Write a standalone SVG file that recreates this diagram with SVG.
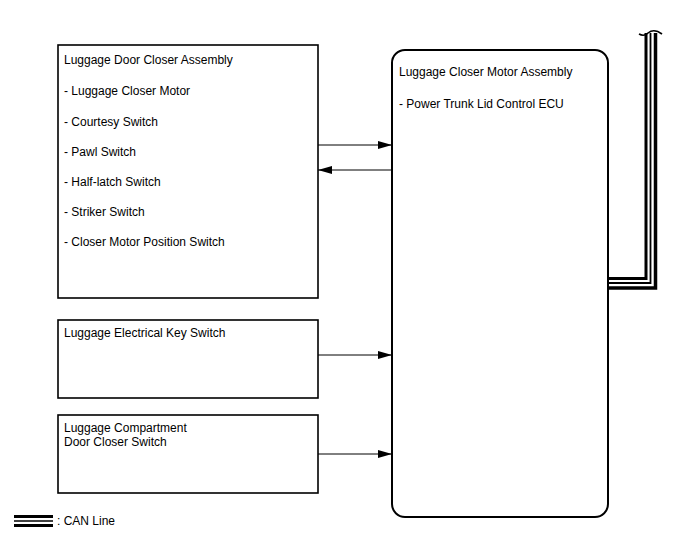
<svg xmlns="http://www.w3.org/2000/svg" width="688" height="560" viewBox="0 0 688 560">
<defs>
<style>
text{font-family:"Liberation Sans",Arial,sans-serif;font-size:12px;fill:#000}
.box{fill:#fff;stroke:#000;stroke-width:1.6}
.ecu{fill:#fff;stroke:#000;stroke-width:2}
.wire{stroke:#000;stroke-width:1;fill:none}
.can{fill:none;stroke:#000}
</style>
<marker id="ah" viewBox="0 0 14 8" refX="14" refY="4" markerWidth="14" markerHeight="8" markerUnits="userSpaceOnUse" orient="auto">
<path d="M0,0 L14,4 L0,8 Z" fill="#000"/>
</marker>
</defs>
<rect width="688" height="560" fill="#fff"/>
<g id="door-closer">
<rect class="box" x="58" y="45" width="260" height="253"/>
<text x="64" y="64">Luggage Door Closer Assembly</text>
<text x="64" y="95">- Luggage Closer Motor</text>
<text x="64" y="126">- Courtesy Switch</text>
<text x="64" y="156">- Pawl Switch</text>
<text x="64" y="186">- Half-latch Switch</text>
<text x="64" y="216">- Striker Switch</text>
<text x="64" y="246">- Closer Motor Position Switch</text>
</g>
<g id="key-switch">
<rect class="box" x="58" y="320" width="260" height="78"/>
<text x="64" y="337">Luggage Electrical Key Switch</text>
</g>
<g id="compartment-switch">
<rect class="box" x="58" y="415" width="260" height="78"/>
<text x="64" y="432">Luggage Compartment</text>
<text x="64" y="446">Door Closer Switch</text>
</g>
<g id="ecu">
<rect class="ecu" x="392" y="50" width="216" height="467" rx="13" ry="13"/>
<text x="399" y="76">Luggage Closer Motor Assembly</text>
<text x="399" y="108">- Power Trunk Lid Control ECU</text>
</g>
<g id="connectors">
<line class="wire" x1="318" y1="145" x2="392" y2="145" marker-end="url(#ah)"/>
<line class="wire" x1="392" y1="170" x2="318" y2="170" marker-end="url(#ah)"/>
<line class="wire" x1="318" y1="355" x2="392" y2="355" marker-end="url(#ah)"/>
<line class="wire" x1="318" y1="454" x2="392" y2="454" marker-end="url(#ah)"/>
<g id="can-bus">
<path class="can" stroke-width="3" d="M608,278.5 H646 V33"/>
<path class="can" stroke-width="1.8" d="M608,283 H650.5 V33"/>
<path class="can" stroke-width="3.5" d="M608,288 H655.5 V33"/>
<path fill="none" stroke="#000" stroke-width="1.6" d="M639,34 Q644,37 648,33 Q654,28 662,34"/>
</g>
</g>
<g id="legend">
<line x1="14" y1="516.5" x2="53" y2="516.5" stroke="#000" stroke-width="3"/>
<line x1="14" y1="521" x2="53" y2="521" stroke="#000" stroke-width="1.5"/>
<line x1="14" y1="525.5" x2="53" y2="525.5" stroke="#000" stroke-width="3"/>
<text x="57" y="525">: CAN Line</text>
</g>
</svg>
